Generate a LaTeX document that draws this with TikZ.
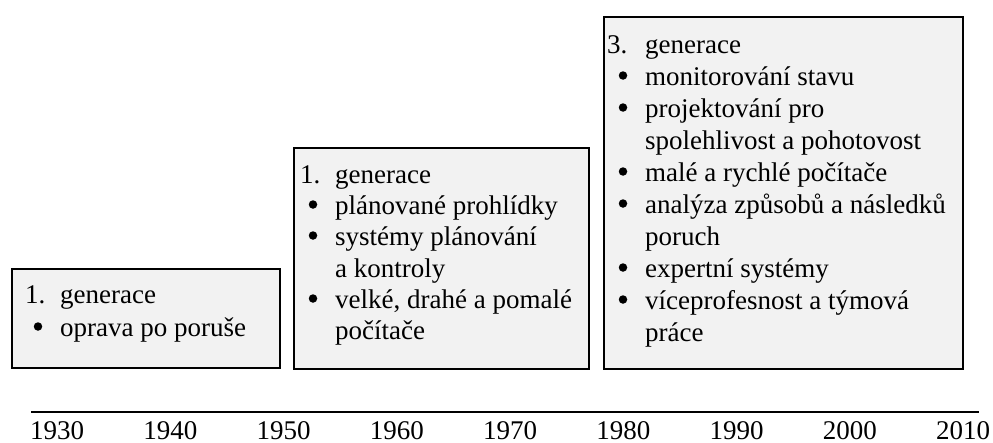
\documentclass[tikz,border=0pt]{standalone}
\usepackage{fontspec}
\setmainfont{Liberation Serif}
\begin{document}
\begin{tikzpicture}[x=1pt,y=-1pt,
  genbox/.style={draw=black,line width=1.6pt,fill=boxgray,inner sep=0pt,anchor=north west},
  txt/.style={anchor=base west,inner sep=0pt,font=\fontsize{27}{32}\selectfont},
  dot/.style={circle,fill=black,inner sep=0pt,minimum size=8.5pt},
  year/.style={anchor=base,inner sep=0pt,font=\fontsize{27}{32}\selectfont}]
\definecolor{boxgray}{HTML}{F2F2F2}
\useasboundingbox (0,0) rectangle (993,442);

% generation boxes
\node[genbox,minimum width=268pt,minimum height=99pt] (b1) at (11,268) {};
\node[genbox,minimum width=295pt,minimum height=221pt] (b2) at (293,147) {};
\node[genbox,minimum width=359pt,minimum height=352pt] (b3) at (603,16) {};

% box 1
\node[txt] (b1n) at (25,303) {1.};
\node[txt] (b1h) at (60,303) {generace};
\node[dot] (b1d1) at (38,326.5) {};
\node[txt] (b1t1) at (60,336) {oprava po poruše};

% box 2
\node[txt] (b2n) at (300,183) {1.};
\node[txt] (b2h) at (335,183) {generace};
\node[dot] (b2d1) at (313,204.5) {};
\node[txt] (b2t1) at (335,214) {plánované prohlídky};
\node[dot] (b2d2) at (313,235.5) {};
\node[txt] (b2t2) at (335,245) {systémy plánování};
\node[txt] (b2t3) at (335,277) {a kontroly};
\node[dot] (b2d3) at (313,298.5) {};
\node[txt] (b2t4) at (335,308) {velké, drahé a pomalé};
\node[txt] (b2t5) at (335,339) {počítače};

% box 3
\node[txt] (b3n) at (607,53) {3.};
\node[txt] (b3h) at (645,53) {generace};
\node[dot] (b3d1) at (623,75.5) {};
\node[txt] (b3t1) at (645,85) {monitorování stavu};
\node[dot] (b3d2) at (623,107.5) {};
\node[txt] (b3t2) at (645,117) {projektování pro};
\node[txt] (b3t3) at (645,149) {spolehlivost a pohotovost};
\node[dot] (b3d3) at (623,171.5) {};
\node[txt] (b3t4) at (645,181) {malé a rychlé počítače};
\node[dot] (b3d4) at (623,203.5) {};
\node[txt] (b3t5) at (645,213) {analýza způsobů a následků};
\node[txt] (b3t6) at (645,245) {poruch};
\node[dot] (b3d5) at (623,267.5) {};
\node[txt] (b3t7) at (645,277) {expertní systémy};
\node[dot] (b3d6) at (623,299.5) {};
\node[txt] (b3t8) at (645,309) {víceprofesnost a týmová};
\node[txt] (b3t9) at (645,341) {práce};

% time axis
\coordinate (axL) at (31,412);
\coordinate (axR) at (979,412);
\draw[line width=1.8pt] (axL) -- (axR);

\foreach \yr [count=\i from 0] in {1930,1940,1950,1960,1970,1980,1990,2000,2010}
  \node[year] (y\yr) at (57+113.25*\i,439) {\yr};
\end{tikzpicture}
\end{document}
